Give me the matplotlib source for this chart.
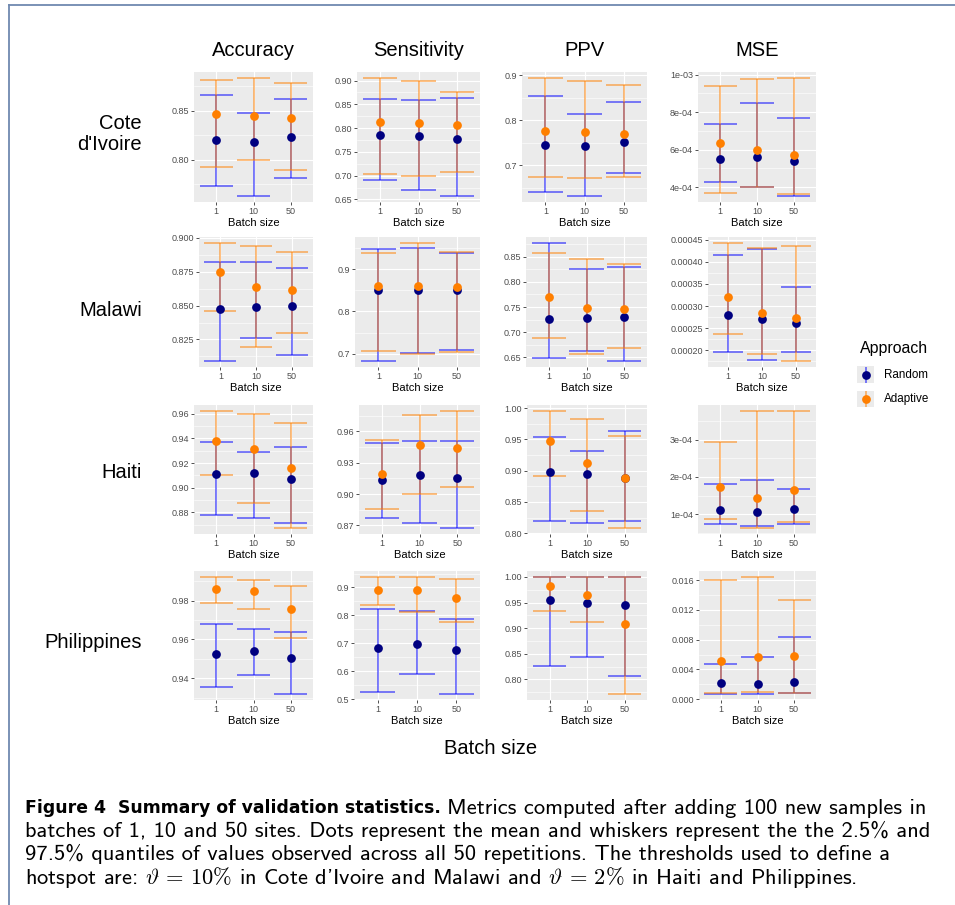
import matplotlib
matplotlib.use("Agg")
import matplotlib.pyplot as plt
from matplotlib.lines import Line2D
import numpy as np

W, H, DPI = 955, 905, 100

batch_sizes = ["1", "10", "50"]
metrics = ["Accuracy", "Sensitivity", "PPV", "MSE"]
countries = ["Cote\nd'Ivoire", "Malawi", "Haiti", "Philippines"]
approaches = ["Random", "Adaptive"]

# rows: Accuracy, Sensitivity, PPV, MSE ; columns: batch size 1, 10, 50
civ_random_mean = [[0.8205, 0.8182, 0.8233], [0.786, 0.7838, 0.778], [0.7457, 0.742, 0.7524], [5.52e-4, 5.58e-4, 5.38e-4]]
civ_random_lo = [[0.773, 0.7627, 0.7812], [0.690, 0.669, 0.657], [0.6413, 0.632, 0.6836], [4.25e-4, 4.01e-4, 3.52e-4]]
civ_random_hi = [[0.8658, 0.848, 0.8616], [0.8605, 0.860, 0.8634], [0.854, 0.8149, 0.8416], [7.34e-4, 8.46e-4, 7.70e-4]]
civ_adaptive_mean = [[0.8462, 0.8445, 0.8425], [0.8133, 0.810, 0.8056], [0.7755, 0.7732, 0.770], [6.36e-4, 5.96e-4, 5.70e-4]]
civ_adaptive_lo = [[0.7925, 0.7997, 0.789], [0.7042, 0.700, 0.7084], [0.6747, 0.6725, 0.6747], [3.68e-4, 3.99e-4, 3.64e-4]]
civ_adaptive_hi = [[0.8818, 0.8836, 0.8788], [0.9056, 0.8986, 0.8768], [0.894, 0.888, 0.8773], [9.39e-4, 9.77e-4, 9.82e-4]]

mwi_random_mean = [[0.8473, 0.8493, 0.850], [0.8494, 0.8502, 0.8502], [0.7253, 0.7286, 0.7293], [2.79e-4, 2.697e-4, 2.614e-4]]
mwi_random_lo = [[0.809, 0.826, 0.8132], [0.6826, 0.7024, 0.708], [0.6487, 0.6627, 0.642], [1.962e-4, 1.773e-4, 1.97e-4]]
mwi_random_hi = [[0.8819, 0.8824, 0.8775], [0.9474, 0.9506, 0.937], [0.878, 0.8266, 0.8293], [4.144e-4, 4.28e-4, 3.432e-4]]
mwi_adaptive_mean = [[0.875, 0.8634, 0.8617], [0.8589, 0.8597, 0.8565], [0.7694, 0.7487, 0.7453], [3.197e-4, 2.84e-4, 2.727e-4]]
mwi_adaptive_lo = [[0.8463, 0.8196, 0.8294], [0.7055, 0.6984, 0.7032], [0.6873, 0.6567, 0.6686], [2.379e-4, 1.924e-4, 1.758e-4]]
mwi_adaptive_hi = [[0.8963, 0.8938, 0.8894], [0.9387, 0.9617, 0.9395], [0.8574, 0.8453, 0.8353], [4.424e-4, 4.30e-4, 4.356e-4]]

hti_random_mean = [[0.9114, 0.9122, 0.9073], [0.9131, 0.9182, 0.9153], [0.8973, 0.8941, 0.8877], [1.108e-4, 1.054e-4, 1.126e-4]]
hti_random_lo = [[0.8776, 0.8757, 0.8711], [0.8773, 0.8719, 0.8674], [0.8187, 0.816, 0.8192], [0.74e-4, 0.668e-4, 0.722e-4]]
hti_random_hi = [[0.9368, 0.9292, 0.9332], [0.9488, 0.9504, 0.9507], [0.9543, 0.932, 0.9629], [1.81e-4, 1.915e-4, 1.67e-4]]
hti_adaptive_mean = [[0.9378, 0.9314, 0.916], [0.9195, 0.9466, 0.9443], [0.9479, 0.9123, 0.8888], [1.717e-4, 1.43e-4, 1.655e-4]]
hti_adaptive_lo = [[0.9103, 0.8876, 0.8673], [0.8853, 0.9003, 0.9064], [0.8915, 0.8355, 0.808], [0.865e-4, 0.623e-4, 0.776e-4]]
hti_adaptive_hi = [[0.9624, 0.960, 0.9522], [0.952, 0.9754, 0.9797], [0.9957, 0.9829, 0.9561], [2.955e-4, 3.78e-4, 3.77e-4]]

phl_random_mean = [[0.9523, 0.954, 0.9502], [0.682, 0.6964, 0.6749], [0.9552, 0.9494, 0.9448], [0.00221, 0.0021, 0.00232]]
phl_random_lo = [[0.9357, 0.9416, 0.9318], [0.525, 0.5893, 0.5179], [0.826, 0.8442, 0.8058], [0.00067, 0.00067, 0.00085]]
phl_random_hi = [[0.968, 0.9655, 0.9638], [0.8239, 0.8155, 0.788], [1.0, 1.0, 1.0], [0.00467, 0.0056, 0.00836]]
phl_adaptive_mean = [[0.9862, 0.9848, 0.9759], [0.8893, 0.8893, 0.8618], [0.9825, 0.9656, 0.9078], [0.0051, 0.00572, 0.00576]]
phl_adaptive_lo = [[0.9786, 0.9755, 0.9605], [0.837, 0.8131, 0.7761], [0.9331, 0.9117, 0.7714], [0.0008, 0.00098, 0.00085]]
phl_adaptive_hi = [[0.9922, 0.9908, 0.9874], [0.938, 0.938, 0.932], [1.0, 1.0, 1.0], [0.01604, 0.01645, 0.01336]]

civ_ytick_labels = [["0.80", "0.85"], ["0.65", "0.70", "0.75", "0.80", "0.85", "0.90"],
                    ["0.7", "0.8", "0.9"], ["4e-04", "6e-04", "8e-04", "1e-03"]]
mwi_ytick_labels = [["0.825", "0.850", "0.875", "0.900"], ["0.7", "0.8", "0.9"],
                    ["0.65", "0.70", "0.75", "0.80", "0.85"],
                    ["0.00020", "0.00025", "0.00030", "0.00035", "0.00040", "0.00045"]]
hti_ytick_labels = [["0.88", "0.90", "0.92", "0.94", "0.96"], ["0.87", "0.90", "0.93", "0.96"],
                    ["0.80", "0.85", "0.90", "0.95", "1.00"], ["1e-04", "2e-04", "3e-04"]]
phl_ytick_labels = [["0.94", "0.96", "0.98"], ["0.5", "0.6", "0.7", "0.8", "0.9"],
                    ["0.80", "0.85", "0.90", "0.95", "1.00"],
                    ["0.000", "0.004", "0.008", "0.012", "0.016"]]

country_data = [
    (civ_random_mean, civ_random_lo, civ_random_hi, civ_adaptive_mean, civ_adaptive_lo, civ_adaptive_hi, civ_ytick_labels),
    (mwi_random_mean, mwi_random_lo, mwi_random_hi, mwi_adaptive_mean, mwi_adaptive_lo, mwi_adaptive_hi, mwi_ytick_labels),
    (hti_random_mean, hti_random_lo, hti_random_hi, hti_adaptive_mean, hti_adaptive_lo, hti_adaptive_hi, hti_ytick_labels),
    (phl_random_mean, phl_random_lo, phl_random_hi, phl_adaptive_mean, phl_adaptive_lo, phl_adaptive_hi, phl_ytick_labels),
]

# ---- styling / layout (pixels) ----
BAR_COLORS = {"Random": "#0000FF", "Adaptive": "#FF8000"}
DOT_COLORS = {"Random": "#000080", "Adaptive": "#FF7F00"}
PANEL_BG = "#EBEBEB"
TICK_COLOR = "#4D4D4D"
SANS = ["Liberation Sans", "DejaVu Sans"]

row_tb = [(72, 202), (237, 367), (405, 534), (571, 700)]
col_right = [313, 480, 647, 816]
panel_left = [[194, 357, 522, 698],
              [199, 355, 526, 708],
              [194, 359, 527, 698],
              [194, 354, 527, 699]]
row_label_y = [134, 310, 473, 642]
title_y = 50

plt.rcParams["mathtext.fontset"] = "cm"
fig = plt.figure(figsize=(W / DPI, H / DPI), dpi=DPI)
fig.patch.set_facecolor("white")


def fx(px):
    return px / W


def fy(py):
    return 1 - py / H


xs = np.arange(1, len(batch_sizes) + 1)
for r, (rm, rl, rh, am, al, ah, tick_labels) in enumerate(country_data):
    top, bot = row_tb[r]
    for c in range(len(metrics)):
        left = panel_left[r][c]
        right = col_right[c]
        ax = fig.add_axes([fx(left), fy(bot), fx(right - left), (bot - top) / H])
        ax.set_facecolor(PANEL_BG)
        for s in ax.spines.values():
            s.set_visible(False)
        series = [("Random", rm[c], rl[c], rh[c]), ("Adaptive", am[c], al[c], ah[c])]
        allv = []
        for name, m, lo, hi in series:
            allv += list(lo) + list(hi) + list(m)
        vmin, vmax = min(allv), max(allv)
        pad = (vmax - vmin) * 0.05
        ax.set_ylim(vmin - pad, vmax + pad)
        ax.set_xlim(0.4, len(batch_sizes) + 0.6)
        ticks = [float(t) for t in tick_labels[c]]
        step = ticks[1] - ticks[0]
        minor = [ticks[0] - step / 2] + [t + step / 2 for t in ticks]
        for mval in minor:
            if vmin - pad < mval < vmax + pad:
                ax.axhline(mval, color="white", lw=0.4, zorder=0.5)
        for t in ticks:
            ax.axhline(t, color="white", lw=0.8, zorder=0.6)
        for xv in xs:
            ax.axvline(xv, color="white", lw=0.8, zorder=0.6)
        for name, m, lo, hi in series:
            col = BAR_COLORS[name]
            ax.vlines(xs, lo, hi, colors=col, alpha=0.5, lw=1.4, zorder=2)
            ax.hlines(lo, xs - 0.45, xs + 0.45, colors=col, alpha=0.5, lw=1.4, zorder=2)
            ax.hlines(hi, xs - 0.45, xs + 0.45, colors=col, alpha=0.5, lw=1.4, zorder=2)
        for name, m, lo, hi in series:
            ax.plot(xs, m, "o", color=DOT_COLORS[name], ms=6.3, mew=0, zorder=3)
        ax.set_yticks(ticks)
        ax.set_yticklabels(tick_labels[c])
        ax.set_xticks(xs)
        ax.set_xticklabels(batch_sizes)
        ax.tick_params(axis="both", length=2.2, width=0.6, color="#333333",
                       labelsize=6.5, labelcolor=TICK_COLOR, pad=1.5)
        for lab in ax.get_xticklabels() + ax.get_yticklabels():
            lab.set_family(SANS)
        ax.set_xlabel("Batch size", fontsize=8, family=SANS, labelpad=1.5)

# column titles
for c, m in enumerate(metrics):
    cx = (panel_left[0][c] + col_right[c]) / 2
    fig.text(fx(cx), fy(title_y), m, fontsize=14.5, family=SANS, ha="center", va="center")

# row labels
for r, lab in enumerate(countries):
    fig.text(fx(142), fy(row_label_y[r]), lab, fontsize=14.5, family=SANS,
             ha="right", va="center", multialignment="right", linespacing=1.15)

# overall x label
fig.text(fx(491), fy(748), "Batch size", fontsize=14.5, family=SANS, ha="center", va="center")

# legend
fig.text(fx(860), fy(348), "Approach", fontsize=11.4, family=SANS, ha="left", va="center")
for i, name in enumerate(approaches):
    cy = [375, 399][i]
    kax = fig.add_axes([fx(857), fy(cy + 8.5), fx(17), 17 / H])
    kax.set_facecolor(PANEL_BG)
    for s in kax.spines.values():
        s.set_visible(False)
    kax.set_xticks([])
    kax.set_yticks([])
    kax.set_xlim(0, 1)
    kax.set_ylim(0, 1)
    kax.vlines([0.5], [0.05], [0.95], colors=BAR_COLORS[name], alpha=0.5, lw=1.4)
    kax.plot([0.5], [0.5], "o", color=DOT_COLORS[name], ms=6.3, mew=0)
    fig.text(fx(884), fy(cy), name, fontsize=8.4, family=SANS, ha="left", va="center")

# border lines
fig.add_artist(Line2D([fx(9), fx(9)], [fy(5), 0], color="#7089B0", lw=1.3))
fig.add_artist(Line2D([fx(9), 1], [fy(5), fy(5)], color="#7089B0", lw=1.3))

# caption
CAP = ["cmss10", "DejaVu Sans"]
cap_size = 16.2
fig.canvas.draw()
renderer = fig.canvas.get_renderer()
t_bold = fig.text(fx(25), fy(808), "Figure 4  Summary of validation statistics.", fontsize=12.4,
                  family="DejaVu Sans", weight="bold", ha="left", va="center")
bb = t_bold.get_window_extent(renderer=renderer)
fig.text(bb.x1 / W + fx(6), fy(808), "Metrics computed after adding 100 new samples in",
         fontsize=cap_size, family=CAP, ha="left", va="center")
cap_lines = [
    "batches of 1, 10 and 50 sites. Dots represent the mean and whiskers represent the the 2.5% and",
    "97.5% quantiles of values observed across all 50 repetitions. The thresholds used to define a",
    r"hotspot are: $\vartheta\,=\,10\%$ in Cote d'Ivoire and Malawi and $\vartheta\,=\,2\%$ in Haiti and Philippines.",
]
for i, line in enumerate(cap_lines):
    fig.text(fx(25), fy(831 + 23.3 * (i + 0)), line, fontsize=cap_size, family=CAP, ha="left", va="center")

fig.savefig("out.png", dpi=DPI)
